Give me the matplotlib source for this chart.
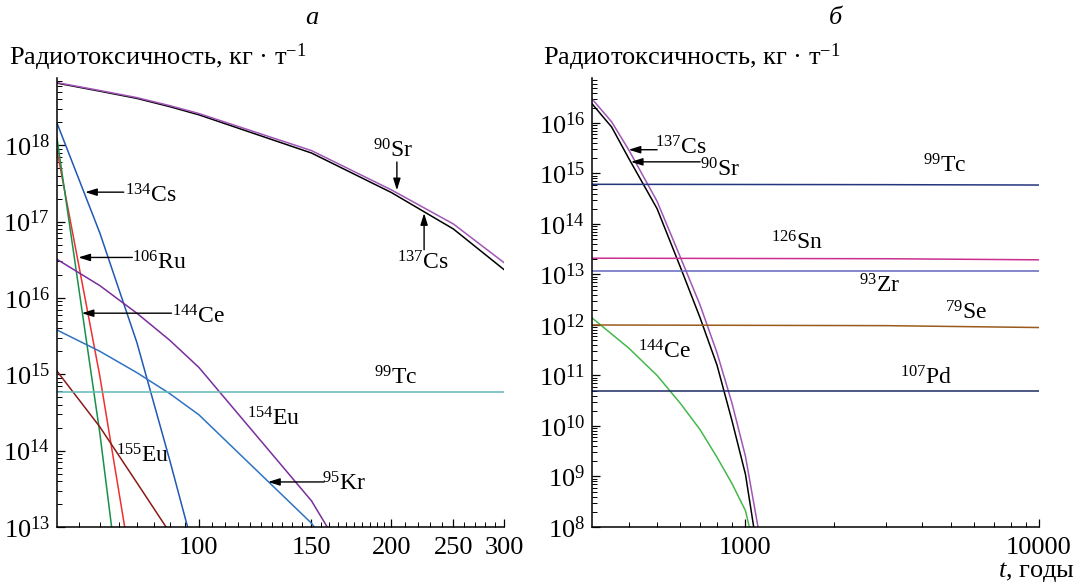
import numpy as np
import matplotlib
matplotlib.use("Agg")
import matplotlib.pyplot as plt
from matplotlib.ticker import FixedLocator, FixedFormatter, LogLocator, NullFormatter

plt.rcParams['font.family'] = 'serif'
plt.rcParams['font.serif'] = ['Liberation Serif', 'DejaVu Serif']
plt.rcParams['mathtext.fontset'] = 'custom'
plt.rcParams['mathtext.rm'] = 'Liberation Serif'
plt.rcParams['mathtext.it'] = 'Liberation Serif:italic'
plt.rcParams['mathtext.bf'] = 'Liberation Serif:bold'

# ---- panel a: 60..300 years
t_a = [60, 70, 80, 90, 100, 150, 200, 250, 300]
sr90_a = [6.6e18, 5.2e18, 4.2e18, 3.3e18, 2.6e18, 8.5e17, 2.6e17, 9.3e16, 2.9e16]
cs137_a = [6.5e18, 5.1e18, 4.1e18, 3.2e18, 2.5e18, 7.9e17, 2.4e17, 8.0e16, 2.35e16]
t_a_short = [60, 70, 80, 90, 100]
cs134_a = [1.95e18, 7.1e16, 2.6e15, 7.6e13, 2.8e12]
eu155_a = [1.1e15, 2.05e14, 3.8e13, 8.5e12, 2.0e12]
t_a_fast = [60, 70, 80]
ru106_a = [8.5e17, 9.5e14, 1.07e12]
ce144_a = [1.23e18, 1.7e14, 2.3e10]
t_a_mid = [60, 70, 80, 90, 100, 150, 200]
eu154_a = [3.2e16, 1.45e16, 6.3e15, 2.8e15, 1.23e15, 2.2e13, 4.0e11]
kr95_a = [3.8e15, 2.0e15, 1.05e15, 5.6e14, 2.95e14, 1.12e13, 4.0e11]
t_a_flat = [60, 300]
tc99_a = [5.9e14, 5.9e14]

# ---- panel b: 300..10000 years
t_b = [300, 350, 400, 500, 600, 700, 800, 900, 1000, 1100, 1200]
cs137_b = [3.0e16, 1.05e16, 2.95e15, 2.8e14, 2.2e13, 2.5e12, 2.8e11, 2.8e10, 2.5e9, 1.1e8, 3.0e6]
sr90_b = [2.4e16, 8.3e15, 2.0e15, 2.0e14, 1.4e13, 1.4e12, 1.6e11, 1.26e10, 1.1e9, 3.2e7, 1.0e6]
t_b_ce = [300, 400, 500, 600, 700, 800, 900, 1000, 1100]
ce144_b = [1.38e12, 3.5e11, 1.0e11, 2.8e10, 8.5e9, 2.4e9, 7.2e8, 2.1e8, 2.0e7]
t_b_flat = [300, 3000, 10000]
tc99_b = [6.1e14, 6.0e14, 5.9e14]
sn126_b = [2.1e13, 2.05e13, 1.95e13]
zr93_b = [1.17e13, 1.17e13, 1.17e13]
se79_b = [1.0e12, 9.7e11, 8.9e11]
pd107_b = [4.9e10, 4.9e10, 4.9e10]

fig = plt.figure(figsize=(10.78, 5.88), dpi=100)
ax1 = fig.add_axes([57 / 1078, 61 / 588, 447 / 1078, 449 / 588])
ax2 = fig.add_axes([592 / 1078, 61 / 588, 447 / 1078, 449 / 588])


def style_axis(ax):
    ax.set_xscale('log')
    ax.set_yscale('log')
    for s in ['top', 'right']:
        ax.spines[s].set_visible(False)
    for s in ['left', 'bottom']:
        ax.spines[s].set_linewidth(1.1)
    ax.tick_params(which='both', direction='in', top=False, right=False, labelsize=19)
    ax.tick_params(which='major', length=6, width=0.9)
    ax.tick_params(which='minor', length=3.5, width=0.7)
    ax.tick_params(axis='x', which='major', pad=7)
    ax.tick_params(axis='y', which='major', pad=5)
    ax.yaxis.set_major_locator(LogLocator(base=10, numticks=20))
    ax.yaxis.set_minor_locator(LogLocator(base=10, subs=np.arange(2, 10), numticks=20))
    ax.yaxis.set_minor_formatter(NullFormatter())
    ax.xaxis.set_minor_formatter(NullFormatter())


lw = 1.1
arrow = dict(arrowstyle='-|>,head_length=0.7,head_width=0.22', color='black',
             lw=1.0, mutation_scale=10, shrinkA=0, shrinkB=0)
lab = dict(fontsize=17, ha='center', va='center')

# ---------------- panel a
style_axis(ax1)
ax1.plot(t_a, cs137_a, color='black', lw=lw)
ax1.plot(t_a, sr90_a, color='#a255b8', lw=lw)
ax1.plot(t_a_short, cs134_a, color='#2158b5', lw=lw)
ax1.plot(t_a_fast, ru106_a, color='#ee3030', lw=lw)
ax1.plot(t_a_fast, ce144_a, color='#16914a', lw=lw)
ax1.plot(t_a_mid, eu154_a, color='#7b2d9c', lw=lw)
ax1.plot(t_a_mid, kr95_a, color='#2e74c0', lw=lw)
ax1.plot(t_a_short, eu155_a, color='#8b1a1a', lw=lw)
ax1.plot(t_a_flat, tc99_a, color='#62b8b8', lw=lw)

ax1.set_xlim(60, 300)
ax1.set_ylim(1e13, 10 ** 18.88)
ax1.xaxis.set_major_locator(FixedLocator([100, 150, 200, 250, 300]))
ax1.xaxis.set_major_formatter(FixedFormatter(['100', '150', '200', '250', '300']))
minor_a = list(range(65, 100, 5)) + list(range(105, 150, 5)) + list(range(155, 200, 5)) \
    + [210, 220, 230, 240, 260, 270, 280, 290]
ax1.xaxis.set_minor_locator(FixedLocator(minor_a))

ax1.text(201, 8.5e17, '$^{90}$Sr', **lab)
ax1.annotate('', xy=(204, 10 ** 17.41), xytext=(204, 10 ** 17.78), arrowprops=arrow)
ax1.text(224, 10 ** 16.455, '$^{137}$Cs', **lab)
ax1.annotate('', xy=(225, 10 ** 17.11), xytext=(225, 10 ** 16.63), arrowprops=arrow)
ax1.text(84.2, 10 ** 17.33, '$^{134}$Cs', **lab)
ax1.annotate('', xy=(66.4, 10 ** 17.385), xytext=(76.3, 10 ** 17.385), arrowprops=arrow)
ax1.text(86.9, 10 ** 16.455, '$^{106}$Ru', **lab)
ax1.annotate('', xy=(64.8, 10 ** 16.53), xytext=(78.7, 10 ** 16.53), arrowprops=arrow)
ax1.text(99.7, 10 ** 15.75, '$^{144}$Ce', **lab)
ax1.annotate('', xy=(65.6, 10 ** 15.80), xytext=(90.6, 10 ** 15.80), arrowprops=arrow)
ax1.text(131, 10 ** 14.41, '$^{154}$Eu', **lab)
ax1.text(81.8, 10 ** 13.93, '$^{155}$Eu', **lab)
ax1.text(168.6, 10 ** 13.56, '$^{95}$Kr', **lab)
ax1.annotate('', xy=(128.3, 10 ** 13.59), xytext=(157, 10 ** 13.59), arrowprops=arrow)
ax1.text(203, 10 ** 14.95, '$^{99}$Tc', **lab)

# ---------------- panel b
style_axis(ax2)
ax2.plot(t_b, sr90_b, color='black', lw=lw)
ax2.plot(t_b, cs137_b, color='#a255b8', lw=lw)
ax2.plot(t_b_ce, ce144_b, color='#45b84c', lw=lw)
ax2.plot(t_b_flat, tc99_b, color='#23357f', lw=lw)
ax2.plot(t_b_flat, sn126_b, color='#cc2f8e', lw=lw)
ax2.plot(t_b_flat, zr93_b, color='#6565bf', lw=lw)
ax2.plot(t_b_flat, se79_b, color='#9a5a1c', lw=lw)
ax2.plot(t_b_flat, pd107_b, color='#1b2a63', lw=lw)

ax2.set_xlim(300, 10000)
ax2.set_ylim(1e8, 10 ** 16.89)
ax2.xaxis.set_major_locator(FixedLocator([1000, 10000]))
ax2.xaxis.set_major_formatter(FixedFormatter(['1000', '10000']))
ax2.xaxis.set_minor_locator(FixedLocator(list(range(400, 1000, 100)) + list(range(2000, 10000, 1000))))

ax2.text(600, 10 ** 15.50, '$^{137}$Cs', **lab)
ax2.annotate('', xy=(400, 10 ** 15.47), xytext=(500, 10 ** 15.47), arrowprops=arrow)
ax2.text(820, 10 ** 15.07, '$^{90}$Sr', **lab)
ax2.annotate('', xy=(407, 10 ** 15.23), xytext=(701, 10 ** 15.23), arrowprops=arrow)
ax2.text(4776, 10 ** 15.15, '$^{99}$Tc', **lab)
ax2.text(1503, 10 ** 13.62, '$^{126}$Sn', **lab)
ax2.text(2860, 10 ** 12.77, '$^{93}$Zr', **lab)
ax2.text(5643, 10 ** 12.24, '$^{79}$Se', **lab)
ax2.text(529, 10 ** 11.47, '$^{144}$Ce', **lab)
ax2.text(4110, 10 ** 10.95, '$^{107}$Pd', **lab)

# ---------------- figure texts
fig.text(312 / 1078, 1 - 18 / 588, 'а', fontsize=19, fontstyle='italic', ha='center', va='center')
fig.text(835 / 1078, 1 - 18 / 588, 'б', fontsize=19, fontstyle='italic', ha='center', va='center')
fig.text(9 / 1078, 1 - 57 / 588, 'Радиотоксичность, кг · т$^{-1}$', fontsize=19, ha='left', va='center')
fig.text(543 / 1078, 1 - 57 / 588, 'Радиотоксичность, кг · т$^{-1}$', fontsize=19, ha='left', va='center')
fig.text(1075 / 1078, 1 - 572 / 588, '$t$, годы', fontsize=19, ha='right', va='center')

fig.savefig('out.png', dpi=100)
